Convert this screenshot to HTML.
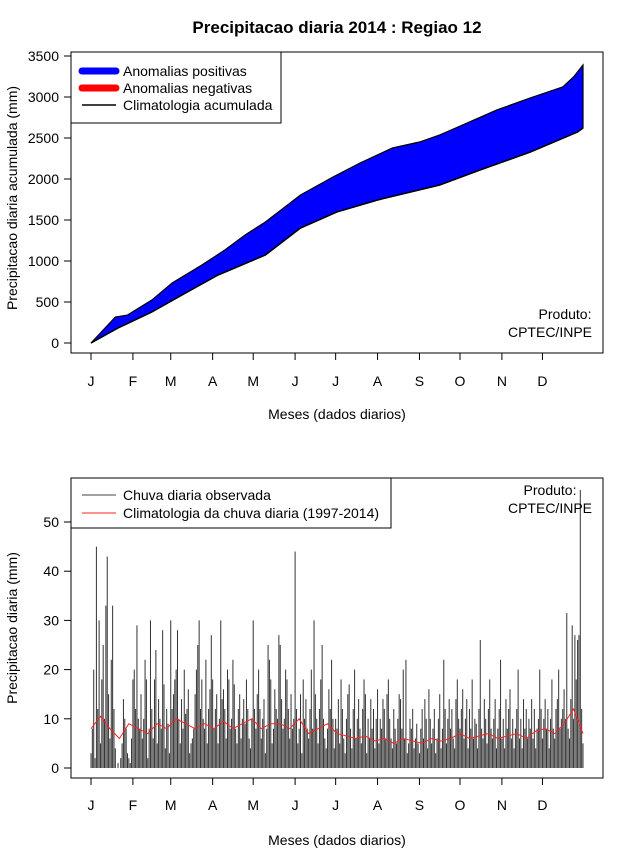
<!DOCTYPE html>
<html><head><meta charset="utf-8">
<style>
body{margin:0;background:#fff;}
svg{display:block;font-family:"Liberation Sans",sans-serif;}
</style></head>
<body>
<svg id="c" width="640" height="850" xmlns="http://www.w3.org/2000/svg"></svg>
<script>
// ---- data ----
const months=["J","F","M","A","M","J","J","A","S","O","N","D"];
const monthStartDays=[1,32,60,91,121,152,182,213,244,274,305,335];
const obsDays=[1,19,28,46,61,83,100,115,130,156,180,200,224,244,259,276,301,326,350,358,365];
const cumObs=[0,317,341,524,732,951,1134,1317,1476,1805,2024,2195,2378,2451,2537,2659,2841,2988,3122,3244,3390];
const climDays=[1,21,46,71,95,130,156,183,213,259,289,326,361,365];
const cumClim=[0,183,378,610,829,1073,1402,1598,1744,1927,2110,2329,2573,2622];
const yTicksTop=[0,500,1000,1500,2000,2500,3000,3500];
const yTicksBot=[0,10,20,30,40,50];
const dailyRain=[
3,8,20,2,45,12,30,5,18,25,10,33,43,15,6,22,33,12,4,0,1,0,2,5,14,10,8,3,2,1,6,
18,20,12,29,10,8,15,6,10,22,18,2,8,30,12,6,18,24,5,14,10,8,28,17,4,12,9,3,
30,12,15,18,20,28,10,5,14,8,20,11,12,16,3,5,6,8,15,20,25,30,12,18,10,8,22,5,12,16,27,
18,8,12,15,5,10,30,14,16,12,6,20,18,8,10,22,17,8,5,12,15,6,10,14,9,18,12,6,4,10,
30,12,8,15,20,12,6,10,14,3,8,25,22,18,5,8,16,12,10,27,25,14,8,10,20,18,12,6,15,8,10,
44,12,5,8,15,3,18,10,14,8,6,12,20,8,30,15,10,5,12,18,25,10,6,4,8,16,12,22,10,4,
10,8,14,5,18,12,6,3,10,15,17,8,4,12,20,6,10,14,8,5,12,18,15,3,10,6,14,8,12,4,10,
16,5,10,8,14,12,6,15,18,10,6,4,12,8,5,10,15,14,8,20,6,22,3,5,10,8,12,4,6,9,5,
3,8,12,6,14,10,4,16,10,5,8,12,3,6,10,15,4,8,22,12,5,10,14,8,12,6,4,14,18,10,
8,12,16,6,10,14,4,12,8,18,6,10,9,4,12,26,8,6,14,10,5,12,18,8,6,10,14,4,8,12,22,
6,10,4,14,8,12,16,6,10,4,8,12,20,6,10,4,14,8,12,6,10,8,14,6,12,4,8,10,20,12,
6,10,14,8,12,4,10,18,8,6,12,14,20,8,10,12,16,10,31.5,8,6,14,29,10,27,18,26,27,56.5,12,5];
const weeklyClim=[8,10.5,8,6,9,8,7,9,8,10,9,8,9,8,9.5,8,9,10,8,9,9,8,10,7,8,9,7,6.5,6,6.5,5.5,6,5,6,5.5,5,6,5.5,6,7,6,6.5,7,6,6.5,7,6,7.5,8,7,9,12,7];

const S=document.getElementById('c');
const NS="http://www.w3.org/2000/svg";
function el(t,a,p){const e=document.createElementNS(NS,t);for(const k in a)e.setAttribute(k,a[k]);(p||S).appendChild(e);return e;}
function txt(x,y,s,a,p){const e=el('text',Object.assign({x:x,y:y,'font-size':14,fill:'#000'},a||{}),p);e.textContent=s;return e;}

const xDay=d=>91+(d-1)*(583-91)/364;
// ---- top ----
const yT=v=>343-v*(343-56)/3500;
const g1=el('g',{});


let pts=obsDays.map((d,i)=>xDay(d)+","+yT(cumObs[i])).join(" ")+" "+climDays.map((d,i)=>[d,cumClim[i]]).reverse().map(p=>xDay(p[0])+","+yT(p[1])).join(" ");
const area=el('polygon',{points:pts,fill:'#0000ff',stroke:'#000','stroke-width':1.2},g1);


const cl=el('polyline',{points:climDays.map((d,i)=>xDay(d)+","+yT(cumClim[i])).join(" "),fill:'none',stroke:'#000','stroke-width':1.5},g1);


el('rect',{x:71,y:52,width:532,height:301,fill:'none',stroke:'#000'},g1);
yTicksTop.forEach(v=>{el('line',{x1:64,x2:71,y1:yT(v),y2:yT(v),stroke:'#000'},g1);txt(59,yT(v)+5,String(v),{'text-anchor':'end'},g1);});
months.forEach((m,i)=>{const x=xDay(monthStartDays[i]);el('line',{x1:x,x2:x,y1:353,y2:360,stroke:'#000'},g1);txt(x,386,m,{'text-anchor':'middle'},g1);});
txt(337,33,"Precipitacao diaria 2014 : Regiao 12",{'text-anchor':'middle','font-weight':'bold','font-size':17});
txt(337,419,"Meses (dados diarios)",{'text-anchor':'middle'});
txt(17,198,"Precipitacao diaria acumulada (mm)",{'text-anchor':'middle',transform:'rotate(-90 17 198)'});
txt(565,319,"Produto:",{'text-anchor':'middle'});txt(550,337,"CPTEC/INPE",{'text-anchor':'middle'});
const lg=el('g',{});


el('rect',{x:71,y:52,width:210,height:71,fill:'#fff',stroke:'#000'},lg);
el('line',{x1:82,x2:116,y1:71,y2:71,stroke:'#0000ff','stroke-width':7,'stroke-linecap':'round'},lg);
el('line',{x1:82,x2:116,y1:88,y2:88,stroke:'#ff0000','stroke-width':7,'stroke-linecap':'round'},lg);
el('line',{x1:82,x2:116,y1:105,y2:105,stroke:'#000','stroke-width':1.5},lg);
txt(123,76,"Anomalias positivas",{},lg);txt(123,93,"Anomalias negativas",{},lg);txt(123,110,"Climatologia acumulada",{},lg);

// ---- bottom ----
const yB=v=>768-v*(768-522)/50;
const g2=el('g',{});


dailyRain.forEach((v,i)=>{const x=xDay(i+1);const b=el('line',{x1:x,x2:x,y1:yB(0),y2:yB(v),stroke:'#333','stroke-width':1},g2);

});
const cp=weeklyClim.map((v,i)=>xDay(1+i*7)+","+yB(v)).join(" ");
const rl=el('polyline',{points:cp,fill:'none',stroke:'#ff2020','stroke-width':1},g2);


el('rect',{x:71,y:478,width:532,height:300,fill:'none',stroke:'#000'},g2);
yTicksBot.forEach(v=>{el('line',{x1:64,x2:71,y1:yB(v),y2:yB(v),stroke:'#000'},g2);txt(59,yB(v)+5,String(v),{'text-anchor':'end'},g2);});
months.forEach((m,i)=>{const x=xDay(monthStartDays[i]);el('line',{x1:x,x2:x,y1:778,y2:785,stroke:'#000'},g2);txt(x,810,m,{'text-anchor':'middle'},g2);});
txt(337,845,"Meses (dados diarios)",{'text-anchor':'middle'});
txt(17,628,"Precipitacao diaria (mm)",{'text-anchor':'middle',transform:'rotate(-90 17 628)'});
txt(550,495,"Produto:",{'text-anchor':'middle'});txt(550,513,"CPTEC/INPE",{'text-anchor':'middle'});
const lg2=el('g',{});


el('rect',{x:71,y:478,width:320,height:50,fill:'#fff',stroke:'#000'},lg2);
el('line',{x1:82,x2:116,y1:495,y2:495,stroke:'#444'},lg2);
el('line',{x1:82,x2:116,y1:513,y2:513,stroke:'#ff2020'},lg2);
txt(123,500,"Chuva diaria observada",{},lg2);txt(123,518,"Climatologia da chuva diaria (1997-2014)",{},lg2);
</script>
</body></html>
